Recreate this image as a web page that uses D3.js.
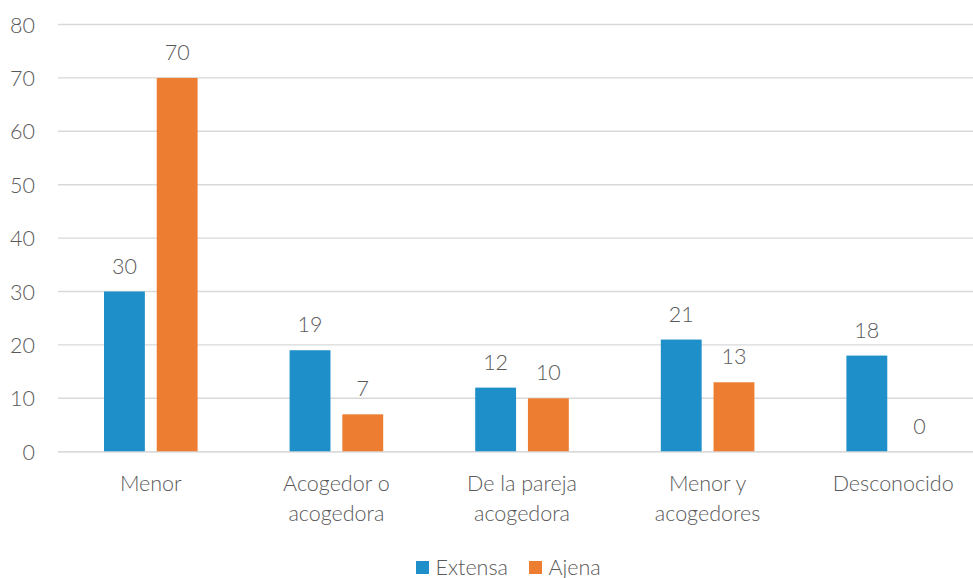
<!DOCTYPE html>
<html>
<head>
<meta charset="utf-8">
<script src="https://cdn.jsdelivr.net/npm/d3@7"></script>
<style>
  html, body { margin: 0; padding: 0; background: #fff; }
  svg { display: block; font-family: Lato, "Open Sans", sans-serif; font-weight: 300; }
</style>
</head>
<body>
<svg id="chart" width="973" height="578"></svg>
<script>
// Categories (each may wrap onto two lines) and the two series
const categories = ["Menor", "Acogedor o acogedora", "De la pareja acogedora", "Menor y acogedores", "Desconocido"];
const categoryLines = [["Menor"], ["Acogedor o", "acogedora"], ["De la pareja", "acogedora"], ["Menor y", "acogedores"], ["Desconocido"]];
const seriesNames = ["Extensa", "Ajena"];
const extensa = [30, 19, 12, 21, 18];
const ajena = [70, 7, 10, 13, 0];
const yTicks = [0, 10, 20, 30, 40, 50, 60, 70, 80];
const colors = ["#1F8FC9", "#ED7D31"];

const svg = d3.select("#chart");
const textColor = "#595959";
const fontSize = 21.5;

const plot = { left: 58, right: 986, top: 24.5, bottom: 451.7 };

const y = d3.scaleLinear().domain([0, 80]).range([plot.bottom, plot.top]);
const x0 = d3.scaleBand().domain(categories).range([plot.left, plot.right]).padding(0);
const groupPad = 46;
const x1 = d3.scaleBand().domain(seriesNames)
  .range([groupPad, x0.bandwidth() - groupPad])
  .paddingInner(0.225).paddingOuter(0);
const color = d3.scaleOrdinal().domain(seriesNames).range(colors);

const rows = categories.map((c, i) => ({
  category: c,
  lines: categoryLines[i],
  values: [
    { series: "Extensa", value: extensa[i] },
    { series: "Ajena", value: ajena[i] }
  ]
}));

// Horizontal gridlines
svg.append("g").selectAll("line").data(yTicks).join("line")
  .attr("x1", plot.left).attr("x2", 973)
  .attr("y1", d => y(d)).attr("y2", d => y(d))
  .attr("stroke", "#D9D9D9").attr("stroke-width", 1.4);

// Y-axis tick labels
svg.append("g").selectAll("text").data(yTicks).join("text")
  .attr("x", 35).attr("y", d => y(d) + 8)
  .attr("text-anchor", "end")
  .attr("fill", textColor).attr("font-size", fontSize)
  .text(d => d);

// Bars and value labels
const groups = svg.append("g").selectAll("g").data(rows).join("g")
  .attr("transform", d => `translate(${x0(d.category)},0)`);

groups.selectAll("rect").data(d => d.values).join("rect")
  .attr("x", d => x1(d.series))
  .attr("width", x1.bandwidth())
  .attr("y", d => y(d.value))
  .attr("height", d => y(0) - y(d.value))
  .attr("fill", d => color(d.series));

groups.selectAll("text.val").data(d => d.values).join("text")
  .attr("class", "val")
  .attr("x", d => x1(d.series) + x1.bandwidth() / 2)
  .attr("y", d => y(d.value) - 18)
  .attr("text-anchor", "middle")
  .attr("fill", textColor).attr("font-size", fontSize)
  .text(d => d.value);

// Baseline drawn over the bars
svg.append("line")
  .attr("x1", plot.left).attr("x2", 973)
  .attr("y1", y(0)).attr("y2", y(0))
  .attr("stroke", "#D9D9D9").attr("stroke-width", 1.4).attr("opacity", 0.6);

// Category labels
groups.each(function(d) {
  const t = d3.select(this).append("text")
    .attr("text-anchor", "middle")
    .attr("fill", textColor).attr("font-size", fontSize);
  d.lines.forEach((line, i) => {
    t.append("tspan")
      .attr("x", x0.bandwidth() / 2)
      .attr("y", 491 + i * 29.5)
      .text(line);
  });
});

// Legend
const legend = svg.append("g");
const legendItems = [{ name: "Extensa", x: 416 }, { name: "Ajena", x: 529 }];
legendItems.forEach(item => {
  legend.append("rect")
    .attr("x", item.x).attr("y", 561).attr("width", 13).attr("height", 13)
    .attr("fill", color(item.name));
  legend.append("text")
    .attr("x", item.x + 19.5).attr("y", 575)
    .attr("fill", textColor).attr("font-size", fontSize)
    .text(item.name);
});
</script>
</body>
</html>
